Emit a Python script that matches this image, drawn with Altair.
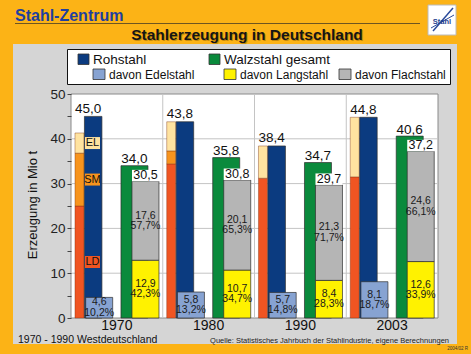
import altair as alt
import pandas as pd

# ---------------- data ----------------
years = ["1970", "1980", "1990", "2003"]
rohstahl = [45.0, 43.8, 38.4, 44.8]
edelstahl = [4.6, 5.8, 5.7, 8.1]
edelstahl_pct = ["10,2%", "13,2%", "14,8%", "18,7%"]
walzstahl = [34.0, 35.8, 34.7, 40.6]
walz_summe = [30.5, 30.8, 29.7, 37.2]
langstahl = [12.9, 10.7, 8.4, 12.6]
langstahl_pct = ["42,3%", "34,7%", "28,3%", "33,9%"]
flachstahl = [17.6, 20.1, 21.3, 24.6]
flachstahl_pct = ["57,7%", "65,3%", "71,7%", "66,1%"]
verfahren = ["LD", "SM", "EL"]
ld = [25.0, 34.4, 31.2, 31.5]
sm = [11.8, 2.9, 0.0, 0.0]
el = [4.5, 6.5, 7.2, 13.3]
y_ticks = [0, 5, 10, 15, 20, 25, 30, 35, 40, 45, 50]
grid_values = [10, 20, 30, 40]

# ---------------- styles ----------------
FONT = "Liberation Sans"
ORANGE = "#FCB316"
PANEL = "#D5D5D5"
BLUE = "#0B3B80"
LBLUE = "#87A3D2"
GREEN = "#0A8A3C"
YELLOW = "#FFF200"
GRAY = "#B5B5B5"
PROC_COLORS = ["#F05522", "#F7941D", "#FFE3A0"]
BOX_COLORS = ["#F05A22", "#F7941D", "#FFE9A8"]
W, H = 367, 224


def fmt(v):
    return f"{v:.1f}".replace(".", ",")


main = pd.DataFrame({
    "year": years,
    "roh": rohstahl,
    "roh_lbl": [fmt(v) for v in rohstahl],
    "edel": edelstahl,
    "edel_mid": [v / 2 for v in edelstahl],
    "edel_lbl": [fmt(v) + "\n" + p for v, p in zip(edelstahl, edelstahl_pct)],
    "walz": walzstahl,
    "walz_lbl": [fmt(v) for v in walzstahl],
    "summe": walz_summe,
    "summe_lbl": [fmt(v) for v in walz_summe],
    "lang": langstahl,
    "lang_mid": [v / 2 for v in langstahl],
    "lang_lbl": [fmt(v) + "\n" + p for v, p in zip(langstahl, langstahl_pct)],
    "flach_top": [a + b for a, b in zip(langstahl, flachstahl)],
    "flach_mid": [a + b / 2 for a, b in zip(langstahl, flachstahl)],
    "flach_lbl": [fmt(v) + "\n" + p for v, p in zip(flachstahl, flachstahl_pct)],
    "zero": [0.0] * len(years),
})

rows = []
for i, yr in enumerate(years):
    start = 0.0
    for name, vals in zip(verfahren, [ld, sm, el]):
        v = vals[i]
        if v > 0:
            rows.append({"year": yr, "proc": name, "start": start,
                         "end": start + v, "mid": start + v / 2})
        start += v
proc = pd.DataFrame(rows)
proc_lbl = proc[proc["year"] == years[0]]

one = pd.DataFrame({"k": [0]})

xscale = alt.Scale(domain=years, paddingInner=0, paddingOuter=0)
yscale = alt.Scale(domain=[0, 50], nice=False, zero=True)
xaxis = alt.Axis(title=None, labelFont=FONT, labelFontSize=14, labelColor="#111",
                 ticks=False, domain=False, grid=False, labelPadding=0,
                 labelAngle=0, zindex=1)
yaxis = alt.Axis(title=None, values=y_ticks, labelFont=FONT, labelFontSize=13.5,
                 labelColor="#222", labelExpr="datum.value % 10 == 0 ? datum.label : ''",
                 tickColor="#444", tickSize=4, labelPadding=2, grid=False,
                 domain=False, zindex=1)


def X(**kw):
    return alt.X("year:N", scale=xscale, axis=xaxis, **kw)


def Y(field):
    return alt.Y(field, type="quantitative", scale=yscale, axis=yaxis)


def vrect(x, x2, y, y2, **kw):
    return alt.Chart(one).mark_rect(**kw).encode(
        x=alt.value(x), x2=alt.value(x2), y=alt.value(y), y2=alt.value(y2))


def vtext(x, y, text, **kw):
    kw.setdefault("font", FONT)
    return alt.Chart(one).mark_text(text=text, **kw).encode(
        x=alt.value(x), y=alt.value(y))


def vrule(x, x2, y, y2, **kw):
    return alt.Chart(one).mark_rule(**kw).encode(
        x=alt.value(x), x2=alt.value(x2), y=alt.value(y), y2=alt.value(y2))


layers = []
# background panel and plot area
layers.append(vrect(-58, 386, -50, 250, color=PANEL))
layers.append(vrect(0, W, 0, H, fill="white", stroke="#8a8a8a", strokeWidth=1))

# header
layers.append(vtext(-56, -78, "Stahl-Zentrum", fontSize=16, fontWeight="bold",
                    color="#1F3F9F", align="left", baseline="middle"))
layers.append(vrule(-56, 349, -70.5, -70.5, color="#6e5520", strokeWidth=1))
layers.append(vrect(357, 385, -89, -59, fill="white", stroke="#bbbbbb", strokeWidth=1))
layers.append(vrule(362, 382, -63, -86, color="#2a4a9a", strokeWidth=1.5))
layers.append(vrule(360, 383, -66, -79, color="#2a4a9a", strokeWidth=1))
layers.append(vtext(371, -72, "Stahl", fontSize=7.5, fontWeight="bold",
                    color="#1F3F8F", align="center", baseline="middle"))
layers.append(vtext(177, -58, "Stahlerzeugung in Deutschland", fontSize=15.5,
                    fontWeight="bold", color="#a26f00", opacity=0.6,
                    align="center", baseline="middle"))
layers.append(vtext(176, -59, "Stahlerzeugung in Deutschland", fontSize=15.5,
                    fontWeight="bold", color="#151515",
                    align="center", baseline="middle"))

# legend box
layers.append(vrect(-3.5, 379.5, -44.5, -9.5, fill="white", stroke="#111", strokeWidth=1))
legend_items = [
    (7, -40, 11, "Rohstahl", BLUE, 13.5),
    (138, -40, 11, "Walzstahl gesamt", GREEN, 13.5),
    (22, -25, 12, "davon Edelstahl", LBLUE, 12),
    (153, -25, 12, "davon Langstahl", YELLOW, 12),
    (268, -25, 12, "davon Flachstahl", GRAY, 12),
]
for lx, ly, s, txt, col, fs in legend_items:
    layers.append(vrect(lx, lx + s, ly, ly + 10.5, fill=col, stroke="#333", strokeWidth=0.8))
    layers.append(vtext(lx + s + 4, ly + 5.5, txt, fontSize=fs, color="#111",
                        align="left", baseline="middle"))

# grid
layers.append(alt.Chart(pd.DataFrame({"v": grid_values})).mark_rule(
    color="#c4c4c4", strokeWidth=1).encode(y=Y("v"), x=alt.value(0), x2=alt.value(W)))
layers.append(alt.Chart(pd.DataFrame({"year": years[1:]})).mark_rule(
    color="#c4c4c4", strokeWidth=1).encode(x=X(bandPosition=0), y=alt.value(0), y2=alt.value(H)))

base = alt.Chart(main)
STROKE = dict(stroke="#2f2f2f", strokeWidth=0.7)

# process bars
layers.append(alt.Chart(proc).mark_bar(width=9, xOffset=-37.4, stroke="#7a3010",
                                       strokeWidth=0.4).encode(
    x=X(), y=Y("start"), y2="end",
    color=alt.Color("proc:N", scale=alt.Scale(domain=verfahren, range=PROC_COLORS), legend=None)))
# Rohstahl
layers.append(base.mark_bar(width=17.5, xOffset=-23.7, color=BLUE, **STROKE).encode(
    x=X(), y=Y("roh"), y2="zero"))
# Edelstahl
layers.append(base.mark_bar(width=27, xOffset=-17.7, color=LBLUE, **STROKE).encode(
    x=X(), y=Y("edel"), y2="zero"))
# Walzstahl gesamt
layers.append(base.mark_bar(width=27, xOffset=17.6, color=GREEN, **STROKE).encode(
    x=X(), y=Y("walz"), y2="zero"))
# Langstahl
layers.append(base.mark_bar(width=27, xOffset=28.6, color=YELLOW, **STROKE).encode(
    x=X(), y=Y("lang"), y2="zero"))
# Flachstahl
layers.append(base.mark_bar(width=27, xOffset=28.6, color=GRAY, **STROKE).encode(
    x=X(), y=Y("flach_top"), y2="lang"))
# white label box on top of Flachstahl
layers.append(base.mark_tick(thickness=11.5, size=27, xOffset=28.6, yOffset=-5.75,
                             color="white", opacity=1).encode(x=X(), y=Y("summe")))

# process label boxes (1970)
layers.append(alt.Chart(proc_lbl).mark_tick(thickness=12, size=15, xOffset=-24.4,
                                            opacity=1).encode(
    x=X(), y=Y("mid"),
    color=alt.Color("proc:N", scale=alt.Scale(domain=verfahren, range=BOX_COLORS), legend=None)))
layers.append(alt.Chart(proc_lbl).mark_text(xOffset=-24.4, font=FONT, fontSize=11,
                                            color="#111", baseline="middle").encode(
    x=X(), y=Y("mid"), text="proc:N"))

# value labels
layers.append(base.mark_text(xOffset=-28.7, dy=-3.5, font=FONT, fontSize=13.5,
                             color="#111", baseline="alphabetic").encode(
    x=X(), y=Y("roh"), text="roh_lbl:N"))
layers.append(base.mark_text(xOffset=17.6, dy=-2.5, font=FONT, fontSize=13.5,
                             color="#111", baseline="alphabetic").encode(
    x=X(), y=Y("walz"), text="walz_lbl:N"))
layers.append(base.mark_text(xOffset=28.6, dy=-2, font=FONT, fontSize=12.5,
                             color="#111", baseline="alphabetic").encode(
    x=X(), y=Y("summe"), text="summe_lbl:N"))
inner = dict(font=FONT, fontSize=10.5, lineHeight=10.5, color="#1a1a1a",
             baseline="middle", lineBreak="\n", dy=-5.25)
layers.append(base.mark_text(xOffset=-17.7, **inner).encode(
    x=X(), y=Y("edel_mid"), text="edel_lbl:N"))
layers.append(base.mark_text(xOffset=28.6, **inner).encode(
    x=X(), y=Y("lang_mid"), text="lang_lbl:N"))
layers.append(base.mark_text(xOffset=28.6, **inner).encode(
    x=X(), y=Y("flach_mid"), text="flach_lbl:N"))

# axis title and footers
layers.append(vtext(-38, 111, "Erzeugung in Mio t", fontSize=13, angle=270,
                    color="#111", align="center", baseline="middle"))
layers.append(vtext(-53, 246, "1970 - 1990 Westdeutschland", fontSize=10.5,
                    color="#111", align="left", baseline="middle"))
layers.append(vtext(378, 246.5, "Quelle: Statistisches Jahrbuch der Stahlindustrie, eigene Berechnungen",
                    fontSize=7.5, color="#222", align="right", baseline="middle"))
layers.append(vtext(397, 255, "2004/02 R", fontSize=4.5, color="#333",
                    align="right", baseline="middle"))

chart = alt.layer(*layers).properties(
    width=W, height=H,
    autosize=alt.AutoSizeParams(type="none"),
    padding={"left": 71, "top": 94, "right": 33, "bottom": 36},
).configure(background=ORANGE, font=FONT).configure_view(stroke=None)

chart.save("out.html", embed_options={"renderer": "svg", "actions": False})
